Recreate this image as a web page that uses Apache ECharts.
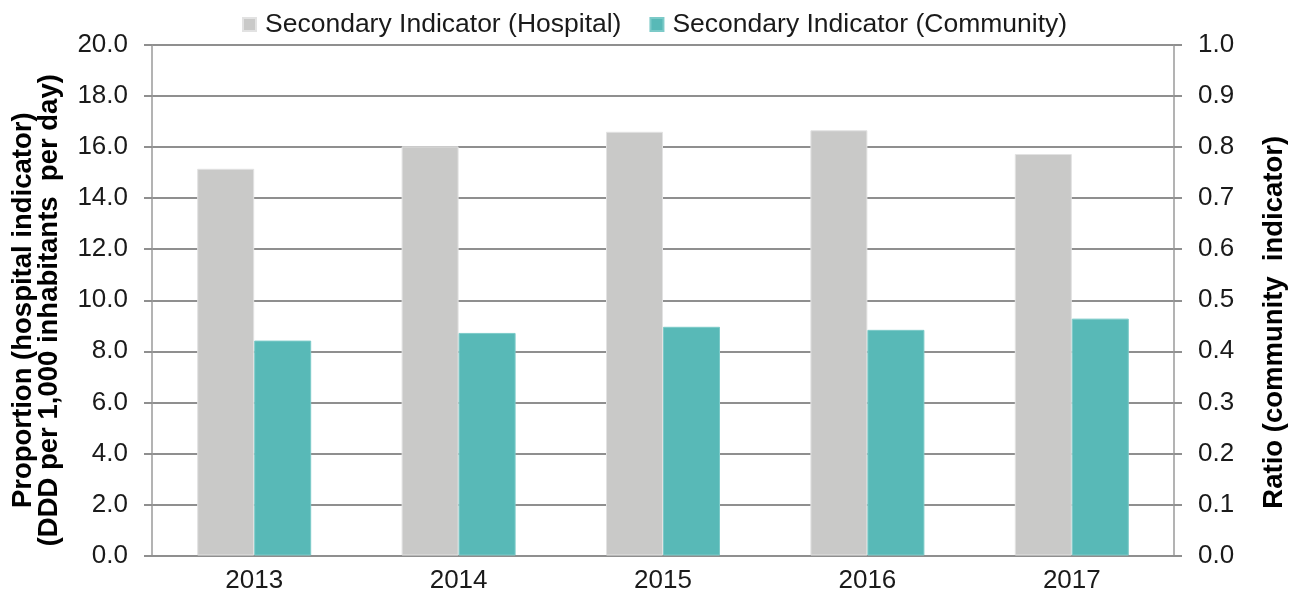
<!DOCTYPE html>
<html>
<head>
<meta charset="utf-8">
<script src="https://cdn.jsdelivr.net/npm/echarts@6/dist/echarts.min.js"></script>
<style>
html,body{margin:0;padding:0;background:#fff;}
#chart{width:1300px;height:600px;}
</style>
</head>
<body>
<div id="chart"></div>
<script>
var categories = ['2013', '2014', '2015', '2016', '2017'];
var hospitalValues = [15.15, 16.03, 16.6, 16.66, 15.73];
var communityValues = [0.421, 0.436, 0.448, 0.442, 0.464];
var leftTicks = {min: 0, max: 20, interval: 2};
var rightTicks = {min: 0, max: 1, interval: 0.1};
var seriesNames = ['Secondary Indicator (Hospital)', 'Secondary Indicator (Community)'];
var axisNames = ['Proportion (hospital indicator)\n(DDD per 1,000 inhabitants  per day)', 'Ratio (community  indicator)'];

var FONT = 'Liberation Sans, Arial, sans-serif';
var chart = echarts.init(document.getElementById('chart'), null, {renderer: 'canvas'});
chart.setOption({
  animation: false,
  backgroundColor: '#ffffff',
  textStyle: {fontFamily: FONT},
  legend: {
    left: 237, top: 6,
    itemWidth: 13, itemHeight: 13, itemGap: 28,
    icon: 'rect',
    textStyle: {fontSize: 26.5, color: '#1a1a1a', fontFamily: FONT, padding: [0, 0, 0, 4]},
    data: seriesNames
  },
  grid: {left: 152, right: 126, top: 45, bottom: 44.5, containLabel: false},
  xAxis: {
    type: 'category',
    data: categories,
    axisLine: {show: true, lineStyle: {color: '#8f8f8f', width: 2}},
    axisTick: {show: false},
    axisLabel: {fontSize: 26, color: '#1a1a1a', margin: 12, fontFamily: FONT}
  },
  yAxis: [{
    type: 'value',
    min: leftTicks.min, max: leftTicks.max, interval: leftTicks.interval,
    position: 'left',
    name: axisNames[0],
    nameLocation: 'middle',
    nameRotate: 90,
    nameGap: 90,
    nameTextStyle: {fontSize: 27.5, fontWeight: 'bold', color: '#000', lineHeight: 26, fontFamily: FONT, padding: [0, 20, 0, 0]},
    axisLine: {show: true, lineStyle: {color: '#9a9a9a', width: 1.5}},
    axisTick: {show: true, length: 8, lineStyle: {color: '#8f8f8f', width: 2}},
    axisLabel: {fontSize: 26, color: '#1a1a1a', margin: 24, fontFamily: FONT,
      formatter: function (v) { return v.toFixed(1); }},
    splitLine: {show: true, lineStyle: {color: '#8f8f8f', width: 2}}
  }, {
    type: 'value',
    min: rightTicks.min, max: rightTicks.max, interval: rightTicks.interval,
    position: 'right',
    name: axisNames[1],
    nameLocation: 'middle',
    nameRotate: 90,
    nameGap: 86,
    nameTextStyle: {fontSize: 27.5, fontWeight: 'bold', color: '#000', fontFamily: FONT, padding: [0, 44, 0, 0]},
    axisLine: {show: true, lineStyle: {color: '#9a9a9a', width: 1.5}},
    axisTick: {show: true, length: 8, lineStyle: {color: '#8f8f8f', width: 2}},
    axisLabel: {fontSize: 26, color: '#1a1a1a', margin: 24, fontFamily: FONT,
      formatter: function (v) { return v.toFixed(1); }},
    splitLine: {show: false}
  }],
  series: [{
    name: seriesNames[0],
    type: 'bar',
    yAxisIndex: 0,
    data: hospitalValues,
    barWidth: 57,
    barGap: '0%',
    itemStyle: {color: '#c9c9c8', borderColor: '#e2e2e2', borderWidth: 1}
  }, {
    name: seriesNames[1],
    type: 'bar',
    yAxisIndex: 1,
    data: communityValues,
    barWidth: 57,
    barGap: '0%',
    itemStyle: {color: '#58b9b7', borderColor: '#7ccac8', borderWidth: 1}
  }]
});
</script>
</body>
</html>
